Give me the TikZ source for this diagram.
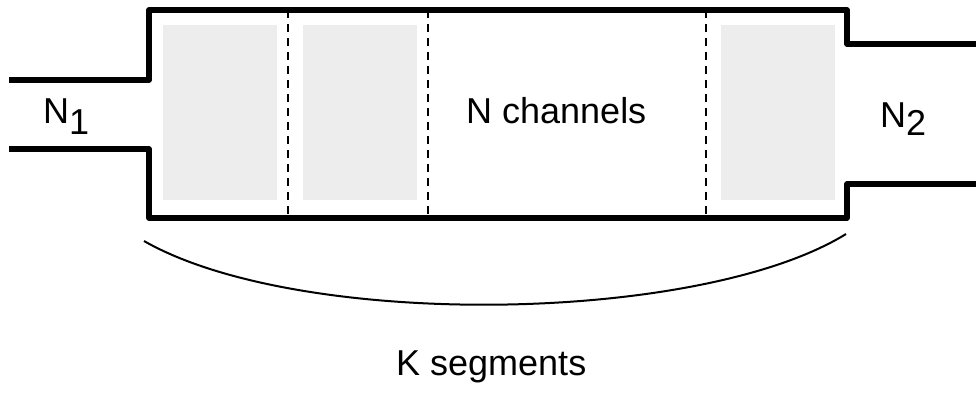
\documentclass[tikz,border=0pt]{standalone}
\usepackage{fontspec}
\setmainfont{Liberation Sans}
\begin{document}
\begin{tikzpicture}[x=1pt,y=-1pt,
  wall/.style={line width=5.5pt,line join=round,line cap=butt},
  cell/.style={draw=none,fill=gray!14,minimum width=114pt,minimum height=175pt,inner sep=0pt,anchor=north west},
  sep/.style={line width=1.8pt,dash pattern=on 8pt off 6pt},
  lbl/.style={inner sep=0pt,anchor=base west,font=\fontsize{36}{40}\selectfont}]
\useasboundingbox (0,0) rectangle (976,392);
% gray cells
\node[cell] (c1) at (163,25) {};
\node[cell] (c2) at (303,25) {};
\node[cell] (c4) at (721,25) {};
% corner coordinates
\coordinate (inTop) at (9,80);
\coordinate (inBot) at (9,149);
\coordinate (outTop) at (976,44);
\coordinate (outBot) at (976,184);
\coordinate (d1t) at (288,10); \coordinate (d1b) at (288,218);
\coordinate (d2t) at (428,10); \coordinate (d2b) at (428,218);
\coordinate (d3t) at (706,10); \coordinate (d3b) at (706,218);
% dashed separators
\draw[sep] (d1t) -- (d1b);
\draw[sep] (d2t) -- (d2b);
\draw[sep] (d3t) -- (d3b);
% walls
\draw[wall] (inTop) -- (149,80) -- (149,10) -- (847,10) -- (847,44) -- (outTop);
\draw[wall] (inBot) -- (149,149) -- (149,218) -- (847,218) -- (847,184) -- (outBot);
% brace arc
\coordinate (aL) at (144,241);
\coordinate (aR) at (846,234);
\draw[line width=2pt] (aL) .. controls (300,330) and (700,324) .. (aR);
% labels
\node[lbl] (n1) at (43,123) {N\raisebox{-11pt}{1}};
\node[lbl] (nch) at (466,123) {N channels};
\node[lbl] (n2) at (880,127) {N\raisebox{-8pt}{2}};
\node[lbl] (ks) at (396,375) {K segments};
\end{tikzpicture}
\end{document}
